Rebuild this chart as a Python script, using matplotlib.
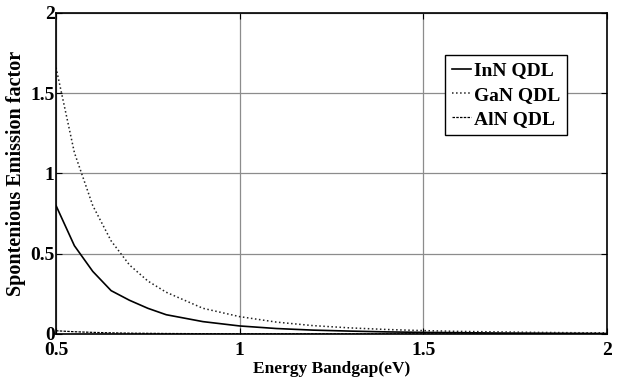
import numpy as np
import matplotlib
matplotlib.use('Agg')
import matplotlib.pyplot as plt

# values
energy = [0.5, 0.55, 0.6, 0.65, 0.7, 0.75, 0.8, 0.9, 1.0, 1.1, 1.2, 1.3, 1.4, 1.5, 1.6, 1.7, 1.8, 1.9, 2.0]
inn_qdl = [0.80, 0.55, 0.39, 0.27, 0.21, 0.16, 0.12, 0.077, 0.05, 0.034, 0.024, 0.018, 0.013, 0.010, 0.008, 0.006, 0.005, 0.004, 0.003]
gan_qdl = [1.66, 1.13, 0.80, 0.58, 0.43, 0.33, 0.26, 0.16, 0.108, 0.074, 0.052, 0.038, 0.028, 0.021, 0.016, 0.013, 0.010, 0.008, 0.007]
aln_qdl = [0.02, 0.014, 0.010, 0.007, 0.005, 0.004, 0.003, 0.002, 0.0013, 0.001, 0.0008, 0.0006, 0.0005, 0.0004, 0.0003, 0.0003, 0.0002, 0.0002, 0.0002]

labels = ['InN QDL', 'GaN QDL', 'AlN QDL']
xticks = [0.5, 1, 1.5, 2]
yticks = [0, 0.5, 1, 1.5, 2]

plt.rcParams['font.family'] = ['Liberation Serif', 'DejaVu Serif']
plt.rcParams['font.weight'] = 'bold'

fig = plt.figure(figsize=(6.17, 3.82), dpi=100)
ax = fig.add_axes([0.0908, 0.1257, 0.8930, 0.8403])

ax.plot(energy, inn_qdl, color='black', linestyle='-', linewidth=1.2, label=labels[0])
ax.plot(energy, gan_qdl, color='#222222', linestyle=':', linewidth=1.1, label=labels[1])
ax.plot(energy, aln_qdl, color='black', linestyle='--', linewidth=0.9, dashes=(2, 1), label=labels[2])

ax.set_xlim(0.5, 2)
ax.set_ylim(0, 2)
ax.set_xticks(xticks)
ax.set_yticks(yticks)
ax.set_xticklabels(['0.5', '1', '1.5', '2'])
ax.set_yticklabels(['0', '0.5', '1', '1.5', '2'])
ax.tick_params(direction='in', top=True, right=True, labelsize=14, length=4)
ax.tick_params(axis='x', pad=6)
ax.tick_params(axis='y', pad=1)
for lab in ax.get_xticklabels() + ax.get_yticklabels():
    lab.set_fontweight('bold')
ax.grid(True, color='#8c8c8c', linewidth=0.9)
for s in ax.spines.values():
    s.set_linewidth(1.2)

ax.set_xlabel('Energy Bandgap(eV)', fontsize=12.5, fontweight='bold', labelpad=1)
ax.set_ylabel('Spontenious Emission factor', fontsize=14.5, fontweight='bold', labelpad=3)

leg = ax.legend(loc='upper left', bbox_to_anchor=(0.706, 0.869), fontsize=14,
                handlelength=1.0, handletextpad=0.15, borderpad=0.35, labelspacing=0.35,
                fancybox=False, framealpha=1, edgecolor='black', borderaxespad=0)
leg.get_frame().set_linewidth(1.0)
for t in leg.get_texts():
    t.set_fontweight('bold')

fig.savefig('out.png', dpi=100)
